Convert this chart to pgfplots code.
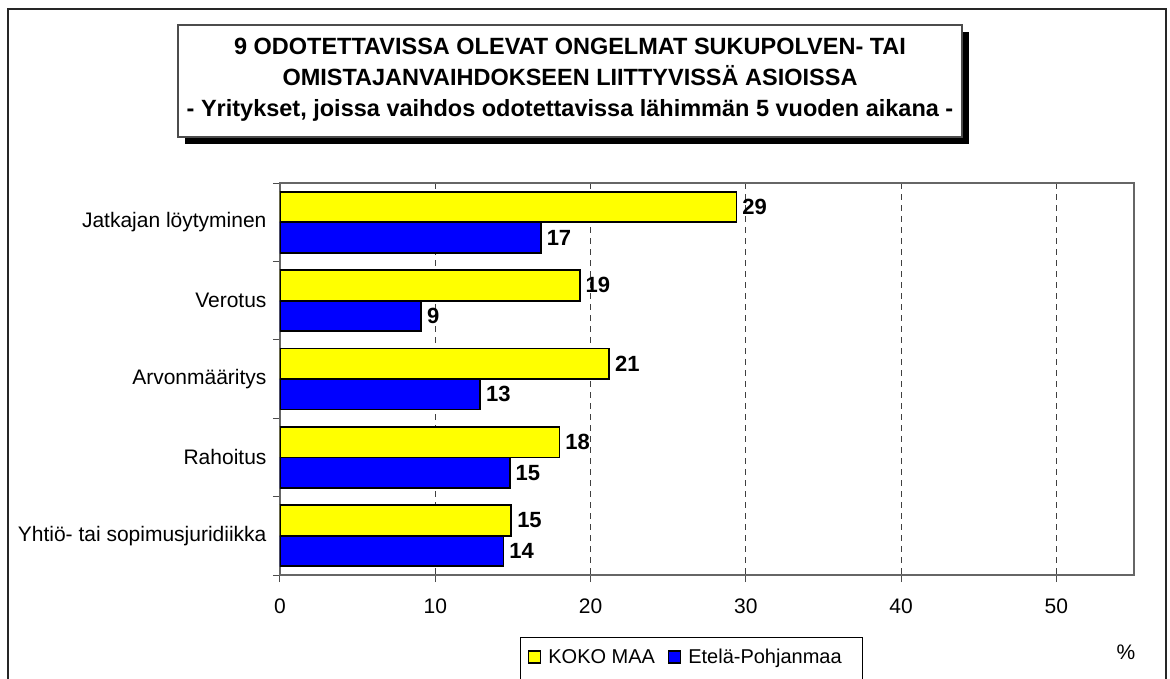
\documentclass[border=0pt]{standalone}
\usepackage{fontspec}
\setmainfont{Liberation Sans}
\usepackage{pgfplots}
\pgfplotsset{compat=1.18}
\definecolor{kyellow}{RGB}{255,255,0}
\definecolor{kblue}{RGB}{0,0,255}
\begin{document}
\begin{tikzpicture}[x=1pt,y=1pt]
\useasboundingbox (0,0) rectangle (1170,678);
% outer frame
\draw[line width=1.5pt, black!85] (8,-5) -- (8,669) -- (1166,669) -- (1166,-5);
% title box with shadow
\fill[black] (185,534) rectangle (969,646);
\draw[line width=1.2pt, black!70, fill=white] (178,541) rectangle (962,653);
\node[align=center, font=\fontsize{23.5}{31}\selectfont\bfseries] at (570,598)
  {9 ODOTETTAVISSA OLEVAT ONGELMAT SUKUPOLVEN- TAI\\
   OMISTAJANVAIHDOKSEEN LIITTYVISSÄ ASIOISSA\\
   - Yritykset, joissa vaihdos odotettavissa lähimmän 5 vuoden aikana -};
% legend frame
\draw[line width=1pt] (520,-5) -- (520,41) -- (862,41) -- (862,-5);
\node[font=\fontsize{21}{24}\selectfont] at (1126,26) {\%};
\begin{axis}[
  at={(280pt,103pt)}, anchor=south west,
  scale only axis, width=854pt, height=392pt,
  xmin=0, xmax=55, ymin=-0.5, ymax=4.5,
  y dir=reverse,
  xbar, bar width=0.39,
  axis line style={draw=black!60, line width=1.3pt},
  xtick={0,10,...,50},
  xtick pos=left, ytick pos=left,
  tick align=outside,
  major tick length=7pt,
  every tick/.style={black!70, line width=1pt},
  ytick={-0.5,0.5,...,4.5}, yticklabels={},
  extra y ticks={0,1,2,3,4},
  extra y tick labels={Jatkajan löytyminen,Verotus,Arvonmääritys,Rahoitus,Yhtiö- tai sopimusjuridiikka},
  extra y tick style={major tick length=0pt, yticklabel style={font=\fontsize{21}{25}\selectfont, xshift=-10pt}},
  xmajorgrids,
  grid style={black!75, line width=0.8pt, dash pattern=on 6pt off 5pt},
  xticklabel style={font=\fontsize{21}{24}\selectfont, yshift=-13pt},
  /pgf/number format/assume math mode=true,
  /pgf/number format/fixed, /pgf/number format/precision=0,
  nodes near coords,
  nodes near coords style={font=\fontsize{22}{24}\selectfont\bfseries, anchor=west, inner sep=0pt, xshift=5pt},
  legend columns=2,
  legend style={at={(0.2904,-0.2092)}, anchor=west, draw=none, fill=none, inner sep=0pt,
    font=\fontsize{20}{24}\selectfont,
    /tikz/every odd column/.append style={column sep=5pt},
    /tikz/every even column/.append style={column sep=11pt}},
  legend image code/.code={\draw[#1,/tikz/.cd,line width=1.2pt] (0pt,-6pt) rectangle (12pt,6pt);},
]
\addplot[fill=kyellow, draw=black, line width=1.8pt, bar shift=-0.195]
  coordinates {(29.4,0) (19.3,1) (21.2,2) (18.0,3) (14.9,4)};
\addplot[fill=kblue, draw=black, line width=1.8pt, bar shift=0.195]
  coordinates {(16.8,0) (9.1,1) (12.9,2) (14.8,3) (14.4,4)};
\legend{KOKO MAA, Etelä-Pohjanmaa}
\end{axis}
\end{tikzpicture}
\end{document}
